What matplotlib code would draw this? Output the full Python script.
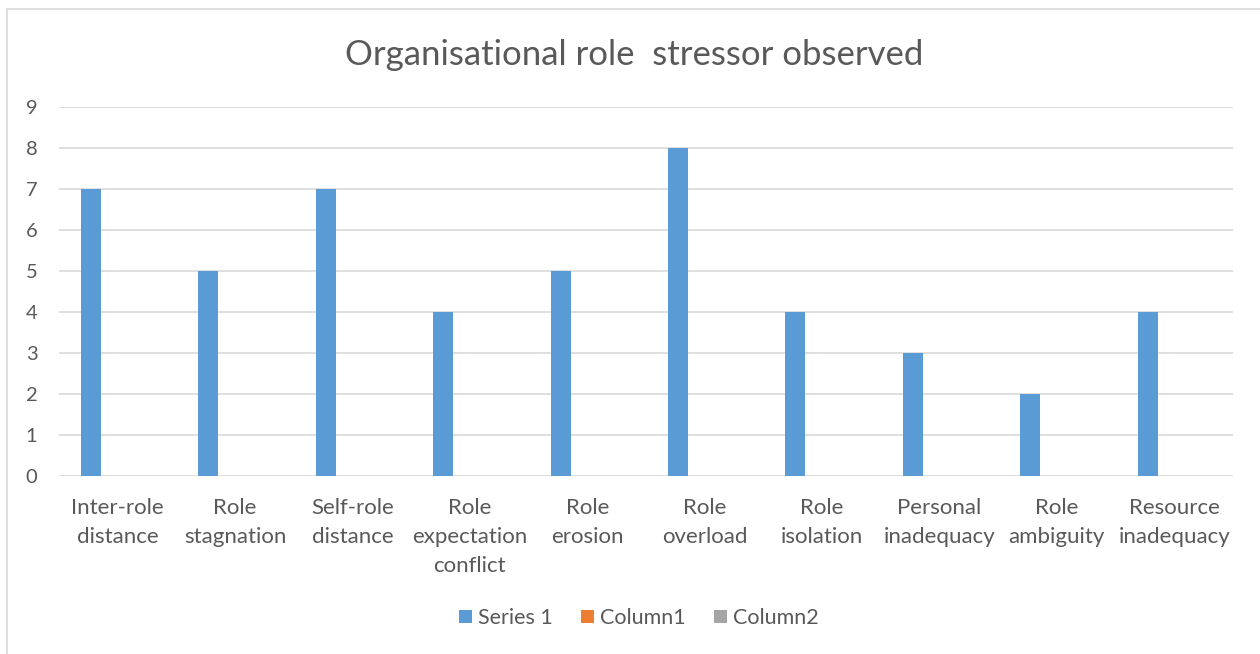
import numpy as np
import matplotlib.pyplot as plt
from matplotlib.patches import Rectangle

# stressor categories and observed counts
categories = ["Inter-role\ndistance", "Role\nstagnation", "Self-role\ndistance",
              "Role\nexpectation\nconflict", "Role\nerosion", "Role\noverload",
              "Role\nisolation", "Personal\ninadequacy", "Role\nambiguity",
              "Resource\ninadequacy"]
series1 = [7, 5, 7, 4, 5, 8, 4, 3, 2, 4]
column1 = [0] * 10
column2 = [0] * 10
series_names = ["Series 1", "Column1", "Column2"]
colors = ["#5B9BD5", "#ED7D31", "#A5A5A5"]

plt.rcParams['font.family'] = ['Lato', 'DejaVu Sans']
txt = "#595959"

W, H = 1260, 654
fig = plt.figure(figsize=(W / 100, H / 100), dpi=100)
# plot area in pixels: left 59, right 1233, top 107 (=9), bottom 476 (=0)
ax = fig.add_axes([59 / W, 1 - 476 / H, (1233 - 59) / W, (476 - 107) / H])

# outer chart frame
fig.patches.append(Rectangle((7 / W, -0.1), 1.2, 1 - 9 / H + 0.1, transform=fig.transFigure,
                             fill=False, edgecolor="#D9D9D9", linewidth=1.2))

x = np.arange(len(categories))
bw = 20 / 117.4
step = 26.7 / 117.4
for k, (vals, name, c) in enumerate(zip([series1, column1, column2], series_names, colors)):
    ax.bar(x + (k - 1) * step, vals, width=bw, color=c, label=name, zorder=3)

ax.set_xlim(-0.5, len(categories) - 0.5)
ax.set_ylim(0, 9)
ax.set_yticks(range(0, 10))
ax.grid(axis="y", color="#D9D9D9", linewidth=1.2, zorder=0)
for s in ax.spines.values():
    s.set_visible(False)
ax.tick_params(axis="y", length=0, pad=24, labelsize=14.5, labelcolor=txt)
ax.tick_params(axis="x", length=0, pad=16, labelsize=16, labelcolor=txt)
ax.set_xticks(x)
ax.set_xticklabels(categories, linespacing=1.55)
for lab in ax.get_yticklabels():
    lab.set_horizontalalignment("left")

fig.text(0.5 + 4 / W, 1 - 55 / H, "Organisational role  stressor observed",
         ha="center", va="center", fontsize=25, color=txt)

leg = fig.legend(loc="center", bbox_to_anchor=(639 / W, 1 - 618 / H), ncol=3,
                 frameon=False, fontsize=15.5, handlelength=0.6, handleheight=0.6,
                 handletextpad=0.3, columnspacing=1.3)
for t in leg.get_texts():
    t.set_color(txt)

fig.savefig("out.png", dpi=100)
